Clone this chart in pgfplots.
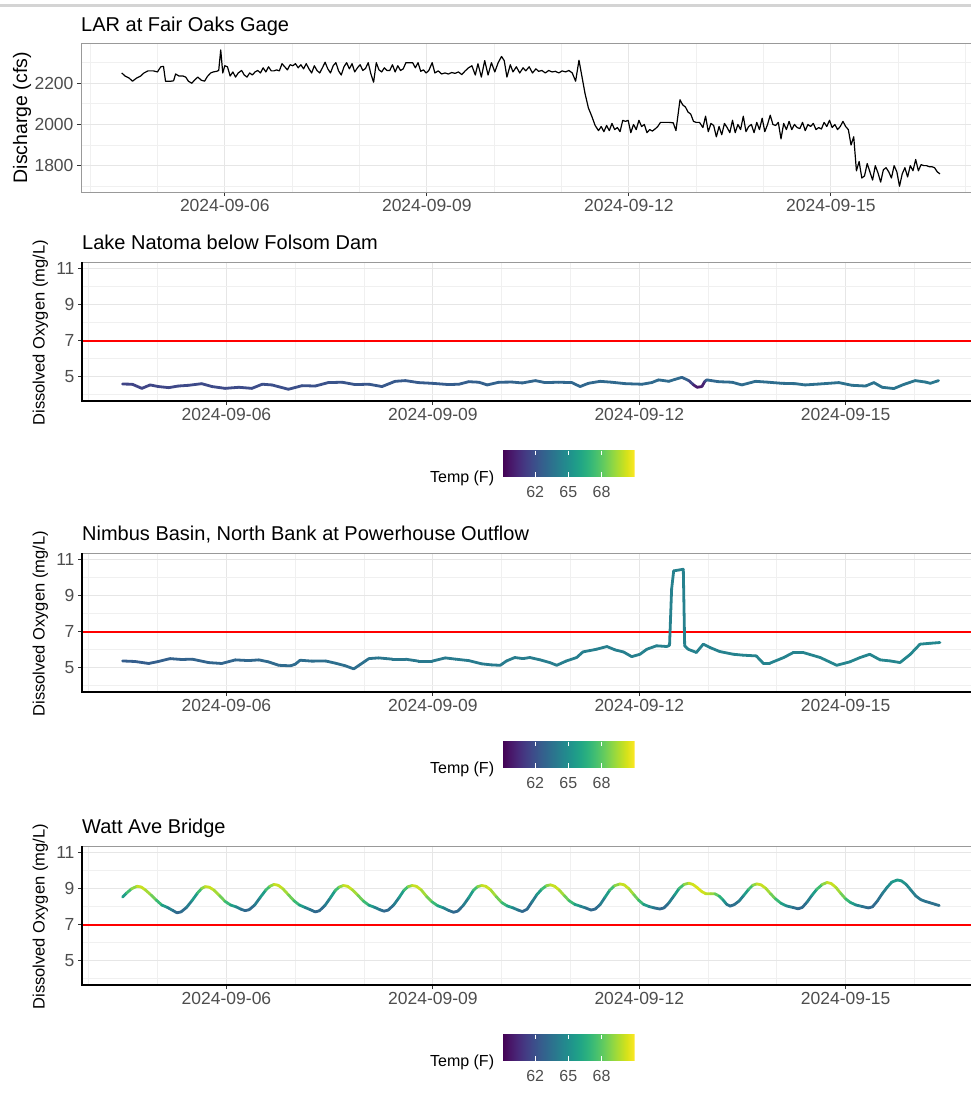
\documentclass[border=0pt]{standalone}
\usepackage{fontspec}
\setmainfont{Liberation Sans}
\usepackage{pgfplots}
\usepackage{pgfplotstable}
\usepgfplotslibrary{colormaps}
\pgfplotsset{compat=1.18}
\definecolor{tickgray}{HTML}{4D4D4D}
\definecolor{tickmark}{HTML}{333333}
\definecolor{gridmaj}{HTML}{E6E6E6}
\definecolor{gridmin}{HTML}{F0F0F0}
\definecolor{boxgray}{HTML}{999999}

\pgfplotstableread{
d v
-1.53 2250
-1.48 2235
-1.42 2225
-1.37 2210
-1.31 2225
-1.25 2235
-1.20 2250
-1.14 2260
-1.06 2260
-1.00 2255
-0.95 2280
-0.91 2282
-0.88 2210
-0.80 2210
-0.76 2212
-0.73 2245
-0.68 2235
-0.62 2235
-0.58 2230
-0.54 2210
-0.49 2200
-0.45 2215
-0.40 2230
-0.35 2215
-0.30 2210
-0.26 2232
-0.21 2250
-0.17 2255
-0.12 2258
-0.09 2262
-0.06 2362
-0.03 2250
0.00 2285
0.04 2280
0.08 2235
0.12 2255
0.16 2230
0.20 2250
0.25 2262
0.29 2240
0.33 2230
0.37 2250
0.41 2240
0.45 2255
0.49 2262
0.53 2250
0.57 2275
0.61 2255
0.65 2280
0.69 2260
0.73 2260
0.77 2265
0.81 2260
0.85 2295
0.89 2280
0.93 2265
0.97 2290
1.01 2285
1.05 2295
1.09 2275
1.13 2290
1.17 2270
1.21 2295
1.25 2270
1.29 2250
1.33 2285
1.37 2262
1.41 2250
1.45 2275
1.49 2302
1.53 2270
1.57 2250
1.61 2285
1.65 2300
1.69 2260
1.73 2240
1.77 2280
1.81 2300
1.85 2270
1.89 2295
1.93 2255
1.97 2275
2.01 2290
2.05 2262
2.09 2272
2.13 2300
2.17 2245
2.21 2205
2.25 2300
2.29 2265
2.33 2255
2.37 2275
2.41 2262
2.45 2262
2.49 2290
2.53 2255
2.57 2285
2.61 2262
2.65 2270
2.69 2300
2.75 2300
2.79 2300
2.83 2275
2.87 2300
2.91 2258
2.95 2265
2.99 2250
3.03 2262
3.08 2300
3.12 2250
3.17 2260
3.22 2245
3.27 2250
3.32 2245
3.37 2252
3.42 2248
3.47 2255
3.52 2242
3.57 2260
3.62 2275
3.67 2285
3.72 2240
3.76 2295
3.81 2230
3.86 2310
3.91 2240
3.96 2300
4.01 2255
4.06 2300
4.11 2330
4.15 2310
4.19 2230
4.24 2290
4.28 2255
4.33 2280
4.38 2250
4.43 2275
4.47 2260
4.52 2280
4.57 2250
4.62 2270
4.66 2258
4.71 2262
4.76 2250
4.81 2262
4.86 2255
4.91 2258
4.96 2250
5.01 2260
5.06 2255
5.11 2262
5.16 2250
5.21 2210
5.26 2312
5.35 2150
5.40 2080
5.45 2040
5.50 1995
5.55 1970
5.59 1990
5.63 1965
5.67 1995
5.71 1970
5.75 2005
5.79 1975
5.83 1985
5.87 1965
5.91 2020
5.95 2015
5.99 2020
6.03 1960
6.07 2000
6.11 1975
6.15 2020
6.19 1990
6.23 2000
6.27 1960
6.31 1975
6.35 1968
6.39 1978
6.43 1990
6.47 2010
6.53 2010
6.60 2010
6.66 2008
6.70 1970
6.76 2120
6.80 2095
6.84 2085
6.88 2060
6.92 2050
6.96 2015
7.00 2010
7.05 2010
7.10 1985
7.14 2040
7.18 1965
7.22 2005
7.26 1995
7.30 1940
7.34 1990
7.38 1950
7.42 2005
7.46 1985
7.50 1960
7.54 2020
7.58 1960
7.62 2000
7.66 1975
7.70 2040
7.74 1965
7.78 1990
7.82 2000
7.86 1960
7.90 2010
7.94 1975
7.98 2030
8.02 1965
8.06 2000
8.10 2045
8.14 2000
8.18 1995
8.22 2010
8.26 1930
8.30 2005
8.34 1975
8.38 2015
8.42 1975
8.46 2000
8.50 1985
8.54 1980
8.58 2010
8.62 1970
8.66 2000
8.70 1990
8.74 2005
8.78 1975
8.82 1985
8.86 1978
8.90 2010
8.94 1990
8.98 2020
9.02 1985
9.06 2000
9.10 1975
9.14 1990
9.18 2015
9.22 1990
9.26 1975
9.30 1900
9.34 1940
9.38 1775
9.42 1820
9.46 1740
9.50 1750
9.54 1810
9.58 1770
9.62 1730
9.66 1800
9.70 1765
9.74 1720
9.78 1780
9.82 1790
9.86 1770
9.90 1740
9.94 1800
9.98 1770
10.02 1700
10.06 1760
10.10 1790
10.14 1745
10.18 1800
10.22 1775
10.26 1830
10.30 1775
10.34 1805
10.38 1800
10.42 1800
10.46 1795
10.50 1795
10.54 1790
10.58 1770
10.62 1760
}\dischargetab

\pgfplotstableread{
d v t
-1.51 4.59 61.5
-1.37 4.58 61.5
-1.23 4.35 61.5
-1.11 4.54 61.6
-0.99 4.45 61.6
-0.84 4.39 61.6
-0.70 4.48 61.7
-0.55 4.52 61.7
-0.36 4.61 61.7
-0.21 4.45 61.8
-0.02 4.35 61.7
0.18 4.41 61.8
0.37 4.35 61.8
0.52 4.58 61.9
0.66 4.54 61.9
0.90 4.30 61.9
1.10 4.50 62.0
1.29 4.48 62.0
1.48 4.67 62.1
1.68 4.69 62.2
1.87 4.56 62.2
2.07 4.58 62.3
2.26 4.45 62.3
2.45 4.74 62.4
2.60 4.78 62.4
2.79 4.67 62.4
2.99 4.63 62.5
3.23 4.56 62.5
3.38 4.58 62.6
3.52 4.72 62.6
3.67 4.69 62.7
3.79 4.54 62.7
3.96 4.69 62.8
4.15 4.70 62.8
4.30 4.65 62.9
4.49 4.78 62.9
4.63 4.67 63.0
4.83 4.69 63.0
5.02 4.67 63.0
5.14 4.45 63.0
5.26 4.63 63.0
5.43 4.74 63.1
5.60 4.69 63.1
5.80 4.61 63.1
6.04 4.58 63.1
6.18 4.67 63.1
6.28 4.82 63.2
6.43 4.74 63.2
6.52 4.85 63.2
6.62 4.96 63.1
6.72 4.78 62.5
6.79 4.54 60.5
6.84 4.41 59.8
6.91 4.45 59.8
6.95 4.72 60.5
6.98 4.82 62.8
7.15 4.72 63.2
7.35 4.69 63.2
7.49 4.54 63.2
7.69 4.74 63.3
7.88 4.69 63.3
8.07 4.63 63.3
8.27 4.61 63.4
8.41 4.54 63.4
8.61 4.59 63.4
8.90 4.67 63.5
9.09 4.52 63.5
9.29 4.48 63.5
9.41 4.67 63.6
9.53 4.41 63.6
9.70 4.34 63.6
9.84 4.56 63.7
10.01 4.78 63.7
10.16 4.70 63.8
10.23 4.63 63.8
10.35 4.78 63.8
}\natomatab

\pgfplotstableread{
d v t
-1.51 5.37 62.6
-1.33 5.34 62.6
-1.13 5.23 62.6
-0.99 5.34 62.7
-0.82 5.50 62.7
-0.65 5.45 62.8
-0.50 5.47 62.8
-0.26 5.28 62.9
-0.07 5.23 62.9
0.13 5.43 63.0
0.32 5.39 63.0
0.47 5.43 63.1
0.61 5.32 63.1
0.76 5.13 63.2
0.93 5.10 63.2
1.00 5.19 63.2
1.07 5.41 63.3
1.24 5.36 63.3
1.44 5.37 63.4
1.58 5.25 63.4
1.73 5.10 63.4
1.85 4.93 63.3
1.95 5.19 63.4
2.07 5.50 63.6
2.21 5.54 63.7
2.41 5.47 63.8
2.60 5.47 63.8
2.79 5.36 63.9
2.99 5.36 63.9
3.18 5.54 64.0
3.33 5.47 64.0
3.52 5.39 64.0
3.71 5.21 64.0
3.86 5.15 64.0
3.98 5.13 64.0
4.07 5.37 64.1
4.19 5.56 64.1
4.31 5.50 64.1
4.41 5.56 64.1
4.56 5.43 64.1
4.70 5.28 64.1
4.80 5.13 64.1
4.94 5.37 64.2
5.09 5.56 64.2
5.18 5.87 64.2
5.38 6.02 64.2
5.53 6.17 64.2
5.65 5.98 64.2
5.77 5.87 64.2
5.89 5.61 64.2
6.01 5.74 64.3
6.11 6.02 64.3
6.25 6.21 64.3
6.40 6.17 64.3
6.44 6.24 64.3
6.47 9.35 64.3
6.50 10.36 64.3
6.64 10.45 64.3
6.66 6.21 64.3
6.71 6.02 64.3
6.83 5.84 64.3
6.93 6.30 64.3
7.03 6.11 64.3
7.17 5.89 64.3
7.37 5.74 64.4
7.51 5.69 64.4
7.70 5.65 64.4
7.80 5.25 64.4
7.90 5.25 64.4
8.10 5.56 64.4
8.24 5.84 64.4
8.38 5.84 64.4
8.63 5.56 64.5
8.87 5.13 64.5
9.06 5.32 64.5
9.21 5.56 64.5
9.35 5.74 64.5
9.50 5.43 64.5
9.65 5.37 64.5
9.79 5.28 64.5
9.94 5.74 64.6
10.08 6.30 64.6
10.23 6.35 64.6
10.37 6.39 64.6
}\nimbustab

\pgfplotstableread{
d v t
-1.51 8.52 65.0
-1.45 8.75 66.5
-1.38 8.98 68.2
-1.30 9.12 69.8
-1.24 9.08 70.2
-1.18 8.92 69.8
-1.10 8.65 69.0
-1.02 8.35 67.8
-0.94 8.08 66.5
-0.86 7.95 65.0
-0.78 7.78 63.8
-0.72 7.65 63.0
-0.66 7.70 63.0
-0.58 7.95 63.6
-0.50 8.33 64.8
-0.42 8.75 66.5
-0.36 9.00 68.2
-0.31 9.10 69.8
-0.25 9.07 70.2
-0.18 8.90 69.8
-0.10 8.60 69.0
-0.02 8.28 67.8
0.06 8.08 66.5
0.14 7.98 65.0
0.21 7.85 63.8
0.27 7.77 63.0
0.33 7.82 63.0
0.41 8.08 63.6
0.49 8.50 64.8
0.57 8.90 66.5
0.63 9.12 68.2
0.69 9.22 69.8
0.75 9.18 70.2
0.82 8.98 69.8
0.90 8.65 69.0
0.98 8.32 67.8
1.06 8.08 66.5
1.14 7.95 65.0
1.22 7.82 63.8
1.29 7.70 63.0
1.35 7.76 63.0
1.43 8.05 63.6
1.51 8.48 64.8
1.58 8.88 66.5
1.64 9.08 68.2
1.70 9.16 69.8
1.76 9.12 70.2
1.83 8.92 69.8
1.91 8.62 69.0
1.99 8.30 67.8
2.07 8.07 66.5
2.15 7.96 65.0
2.23 7.82 63.8
2.29 7.74 63.0
2.35 7.80 63.0
2.43 8.08 63.6
2.51 8.50 64.8
2.58 8.90 66.5
2.64 9.10 68.2
2.70 9.16 69.8
2.76 9.12 70.2
2.83 8.92 69.8
2.91 8.55 69.0
2.99 8.25 67.8
3.07 8.04 66.5
3.15 7.93 65.0
3.23 7.78 63.8
3.30 7.68 63.0
3.36 7.74 63.0
3.44 8.05 63.6
3.52 8.48 64.8
3.59 8.90 66.5
3.65 9.10 68.2
3.71 9.16 69.8
3.77 9.12 70.2
3.84 8.92 69.8
3.92 8.55 69.0
4.00 8.22 67.8
4.08 8.03 66.5
4.16 7.93 65.0
4.24 7.80 63.8
4.30 7.72 63.0
4.37 7.85 63.0
4.44 8.25 63.6
4.51 8.65 64.8
4.58 8.95 66.5
4.65 9.15 68.2
4.71 9.20 69.8
4.77 9.12 70.2
4.84 8.90 69.8
4.91 8.60 69.0
4.98 8.32 67.8
5.06 8.12 66.5
5.14 8.02 65.0
5.22 7.92 63.8
5.30 7.80 63.0
5.36 7.86 63.0
5.43 8.10 63.6
5.50 8.50 64.8
5.57 8.90 66.5
5.64 9.15 68.2
5.72 9.25 69.8
5.78 9.20 70.2
5.85 8.98 69.8
5.92 8.66 69.0
5.99 8.35 67.8
6.06 8.12 66.5
6.14 8.00 65.0
6.22 7.92 63.8
6.30 7.86 63.0
6.36 7.92 63.0
6.43 8.20 63.6
6.51 8.62 64.8
6.58 9.00 66.5
6.65 9.22 68.2
6.72 9.29 69.8
6.78 9.22 70.2
6.84 9.05 70.3
6.91 8.82 70.3
6.97 8.70 70.0
7.04 8.71 69.6
7.10 8.70 68.8
7.16 8.58 67.5
7.22 8.35 66.0
7.27 8.12 64.3
7.32 8.02 63.3
7.38 8.10 63.3
7.45 8.30 63.8
7.52 8.62 64.8
7.59 8.95 66.5
7.65 9.18 68.2
7.71 9.25 69.8
7.77 9.20 70.2
7.84 9.00 69.8
7.91 8.70 69.0
7.98 8.42 67.8
8.06 8.18 66.5
8.14 8.03 65.0
8.23 7.95 63.8
8.31 7.87 63.0
8.37 7.95 63.0
8.44 8.25 63.6
8.51 8.62 64.8
8.58 8.95 66.5
8.66 9.22 68.2
8.73 9.33 69.8
8.79 9.27 70.2
8.86 9.05 69.8
8.93 8.72 69.0
9.00 8.42 67.8
9.07 8.22 66.5
9.15 8.08 65.0
9.24 8.00 63.8
9.33 7.92 63.0
9.39 7.98 63.0
9.46 8.30 63.3
9.53 8.70 63.8
9.60 9.05 64.5
9.67 9.35 65.2
9.75 9.47 65.8
9.81 9.42 65.5
9.88 9.22 65.0
9.95 8.90 64.4
10.02 8.58 64.0
10.09 8.38 63.8
10.16 8.28 63.6
10.23 8.20 63.5
10.30 8.12 63.5
10.36 8.05 63.5
}\watttab

\pgfplotsset{
  panel/.style={
    scale only axis, anchor=north west,
    axis line style={draw=none},
    tick align=outside, tick pos=left,
    major tick length=4pt, minor tick length=0pt,
    every tick/.style={tickmark, line width=0.9pt},
    /pgf/number format/assume math mode=true,
    /pgf/number format/1000 sep={},
    tick label style={font=\fontsize{17.5}{21}\selectfont, text=tickgray},
    grid=both,
    major grid style={gridmaj, line width=1.2pt},
    minor grid style={gridmin, line width=1pt},
    every axis title/.style={at={(0,1)}, anchor=base west, yshift=12.5pt, inner sep=0pt, font=\fontsize{20}{24}\selectfont},
  },
  dopanel/.style={
    width=899pt, height=139pt,
    xmin=-2.10, xmax=10.967, ymin=3.65, ymax=11.35,
    xtick={0,3,6,9}, xticklabels={2024-09-06,2024-09-09,2024-09-12,2024-09-15},
    minor xtick={-2,-1,1,2,4,5,7,8,10},
    ytick={5,7,9,11}, minor ytick={4,6,8,10},
    ylabel={Dissolved Oxygen (mg/L)},
    every axis y label/.style={at={(axis description cs:-0.0462,0.49)}, rotate=90, anchor=center, font=\fontsize{16.5}{20}\selectfont},
    extra description/.code={
      \draw[boxgray, line width=1pt] (0,0) rectangle (1,1);
      \draw[black, line width=1.4pt] (0,1) -- (0,0) -- (1,0);
    },
    colormap/viridis,
    point meta min=59.06, point meta max=71.0,
    colorbar horizontal,
    colorbar/width=26pt,
    colorbar style={
      at={(parent axis.south west)}, anchor=north west,
      xshift=420.7pt, yshift=-41.2pt,
      scale only axis, width=132pt, height=26pt,
      title={}, ylabel={}, xlabel={},
      grid=none,
      xtick={62,65,68}, ytick=\empty,
      xticklabel={\pgfmathprintnumber[assume math mode=true]{\tick}},
      xticklabel pos=lower,
      axis line style={draw=none},
      tick align=inside, xtick pos=both,
      major tick length=4.5pt, minor tick length=0pt,
      every tick/.style={white, line width=1pt},
      xticklabel style={font=\fontsize{16}{19}\selectfont, text=tickgray, yshift=-6pt},
      extra description/.code={
        \node[anchor=base east, inner sep=0pt, font=\fontsize{16}{19}\selectfont, xshift=-8.4pt, yshift=-6pt] at (0,0) {Temp (F)};
      },
    },
  },
}

\begin{document}
\begin{tikzpicture}
\path[use as bounding box] (0pt,0pt) rectangle (971pt,-1096pt);
\fill[black!17] (0pt,-3.5pt) rectangle (971pt,-6.5pt);

\begin{axis}[panel, at={(81pt,-43.5pt)}, width=900pt, height=148.5pt,
  xmin=-2.135, xmax=11.23, ymin=1672, ymax=2393,
  xtick={0,3,6,9}, xticklabels={2024-09-06,2024-09-09,2024-09-12,2024-09-15},
  minor xtick={-2,-1,1,2,4,5,7,8,10,11},
  ytick={1800,2000,2200}, minor ytick={1700,1900,2100,2300},
  title={LAR at Fair Oaks Gage},
  ylabel={Discharge (cfs)},
  every axis y label/.style={at={(axis description cs:-0.0656,0.5)}, rotate=90, anchor=center, font=\fontsize{19.5}{23}\selectfont},
  extra description/.code={\draw[boxgray, line width=1pt] (0,0) rectangle (1,1);},
]
\addplot[black, line width=1.2pt, line join=round] table[x=d,y=v] {\dischargetab};
\end{axis}

\begin{axis}[panel, dopanel, at={(82pt,-262pt)}, title={Lake Natoma below Folsom Dam}]
\addplot[red, line width=2pt] coordinates {(-3,7) (12,7)};
\addplot[mesh, line width=2.8pt, line cap=round, line join=round, point meta=\thisrow{t}] table[x=d,y=v] {\natomatab};
\end{axis}

\begin{axis}[panel, dopanel, at={(82pt,-553pt)}, title={Nimbus Basin, North Bank at Powerhouse Outflow}]
\addplot[red, line width=2pt] coordinates {(-3,7) (12,7)};
\addplot[mesh, line width=2.8pt, line cap=round, line join=round, point meta=\thisrow{t}] table[x=d,y=v] {\nimbustab};
\end{axis}

\begin{axis}[panel, dopanel, at={(82pt,-846pt)}, title={Watt Ave Bridge}]
\addplot[red, line width=2pt] coordinates {(-3,7) (12,7)};
\addplot[mesh, line width=2.8pt, line cap=round, line join=round, point meta=\thisrow{t}] table[x=d,y=v] {\watttab};
\end{axis}
\end{tikzpicture}
\end{document}
